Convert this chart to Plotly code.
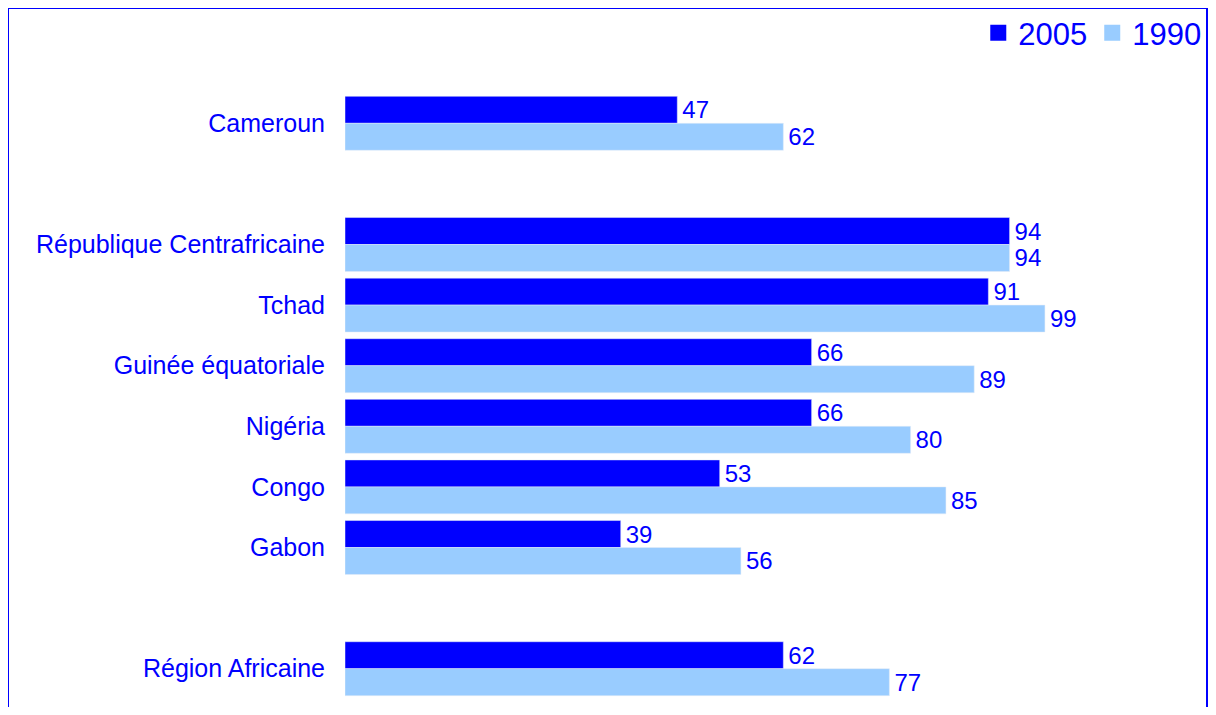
import plotly.graph_objects as go

# categories, top to bottom (blank entries leave the empty slots)
categories = ["Cameroun", " ", "République Centrafricaine", "Tchad", "Guinée équatoriale",
              "Nigéria", "Congo", "Gabon", "  ", "Région Africaine"]
countries = ["Cameroun", "République Centrafricaine", "Tchad", "Guinée équatoriale",
             "Nigéria", "Congo", "Gabon", "Région Africaine"]
values_2005 = [47, 94, 91, 66, 66, 53, 39, 62]
values_1990 = [62, 94, 99, 89, 80, 85, 56, 77]
series = [("2005", values_2005, "#0000FF"), ("1990", values_1990, "#99CCFF")]

BLUE = "#0000FF"
FONT = "Liberation Sans, Arial, sans-serif"

W, H = 1200, 699
L, R, T, B = 337, 0, 85, 8
plot_w = W - L - R
plot_h = H - T - B

fig = go.Figure()

for name, vals, color in series:
    fig.add_trace(
        go.Bar(
            x=vals,
            y=countries,
            name=name,
            orientation="h",
            marker_color=color,
            text=vals,
            texttemplate="\u200a%{text}",
            textposition="outside",
            textfont=dict(color=BLUE, size=24, family=FONT),
            cliponaxis=False,
            showlegend=False,
        )
    )

# legend entries with bigger square swatches
for name, vals, color in series:
    fig.add_trace(
        go.Scatter(
            x=[None], y=[None], name=name, mode="markers",
            marker=dict(symbol="square", size=19, color=color),
        )
    )

# frame around the whole chart
fig.add_shape(
    type="rect", xref="paper", yref="paper",
    x0=(0.0 - L) / plot_w, x1=(plot_w - 1) / plot_w, y0=-0.1, y1=1 + T / plot_h,
    line=dict(color=BLUE, width=2), fillcolor="rgba(0,0,0,0)",
)

fig.update_layout(
    width=W,
    height=H,
    margin=dict(l=L, r=R, t=T, b=B, autoexpand=False),
    paper_bgcolor="white",
    plot_bgcolor="white",
    barmode="group",
    bargap=0.11,
    bargroupgap=0,
    font=dict(family=FONT, color=BLUE),
    showlegend=True,
    legend=dict(
        orientation="h",
        x=0.998, xanchor="right",
        y=1 + (T - 25) / plot_h, yanchor="middle",
        font=dict(size=31, color=BLUE),
        traceorder="normal",
        itemwidth=30,
        bgcolor="rgba(0,0,0,0)",
    ),
    xaxis=dict(
        range=[0, plot_w / 7.07],
        showgrid=False, zeroline=False, showline=False,
        showticklabels=False, ticks="",
    ),
    yaxis=dict(
        type="category",
        categoryorder="array",
        categoryarray=categories,
        range=[9.5, -0.5],
        showgrid=False, zeroline=False, showline=False,
        ticks="",
        ticklabelstandoff=19,
        tickfont=dict(size=25, color=BLUE),
    ),
)

fig.write_html("out.html")
